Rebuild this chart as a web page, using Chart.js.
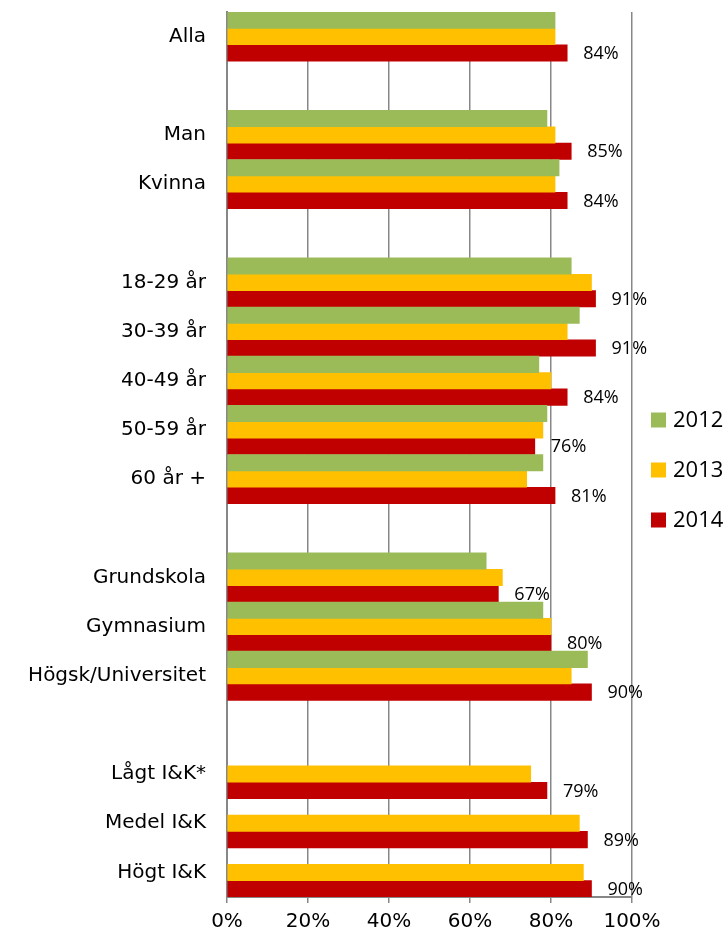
<!DOCTYPE html>
<html>
<head>
<meta charset="utf-8">
<script src="https://cdn.jsdelivr.net/npm/chart.js@4/dist/chart.umd.min.js"></script>
<style>
  html, body { margin: 0; padding: 0; background: #fff; }
  #wrap { width: 728px; height: 937px; }
</style>
</head>
<body>
<div id="wrap"><canvas id="chart" width="728" height="937"></canvas></div>
<script>
// Kategorier (tomma strängar = mellanrum mellan grupperna)
const kategorier = ['Alla', '', 'Man', 'Kvinna', '', '18-29 år', '30-39 år', '40-49 år', '50-59 år', '60 år +', '',
    'Grundskola', 'Gymnasium', 'Högsk/Universitet', '', 'Lågt I&K*', 'Medel I&K', 'Högt I&K'];

const ar = ['2012', '2013', '2014'];
const varden2012 = [81, null, 79, 82, null, 85, 87, 77, 79, 78, null, 64, 78, 89, null, null, null, null];
const varden2013 = [81, null, 81, 81, null, 90, 84, 80, 78, 74, null, 68, 80, 85, null, 75, 87, 88];
const varden2014 = [84, null, 85, 84, null, 91, 91, 84, 76, 81, null, 67, 80, 90, null, 79, 89, 90];

const xTicks = [0, 20, 40, 60, 80, 100];
const farger = ['#9BBB59', '#FFC000', '#C00000'];

// Procentetiketter på 2014-staplarna
const etikettPlugin = {
    id: 'etiketter',
    afterDatasetsDraw(chart) {
        const ctx = chart.ctx;
        const meta = chart.getDatasetMeta(2);
        ctx.save();
        ctx.font = '18px "Open Sans"';
        ctx.fillStyle = '#000';
        ctx.textAlign = 'left';
        ctx.textBaseline = 'middle';
        meta.data.forEach((bar, i) => {
            const v = varden2014[i];
            if (v == null) return;
            ctx.fillText(v + '%', bar.x + 16, bar.y + 1);
        });
        ctx.restore();
    }
};

// Egen legend till höger
const legendPlugin = {
    id: 'egenLegend',
    afterDraw(chart) {
        const ctx = chart.ctx;
        ctx.save();
        ctx.font = '22px "Open Sans"';
        ctx.textAlign = 'left';
        ctx.textBaseline = 'middle';
        chart.data.datasets.forEach((ds, i) => {
            const y = 420 + i * 50;
            ctx.fillStyle = ds.backgroundColor;
            ctx.fillRect(651, y - 7.5, 15, 15);
            ctx.fillStyle = '#000';
            ctx.fillText(ds.label, 673, y + 1);
        });
        ctx.restore();
    }
};

const ctx = document.getElementById('chart').getContext('2d');
const chart = new Chart(ctx, {
    type: 'bar',
    data: {
        labels: kategorier,
        datasets: [
            { label: ar[0], data: varden2012, backgroundColor: farger[0] },
            { label: ar[1], data: varden2013, backgroundColor: farger[1] },
            { label: ar[2], data: varden2014, backgroundColor: farger[2] }
        ]
    },
    options: {
        indexAxis: 'y',
        responsive: false,
        animation: false,
        layout: { padding: { top: 12, right: 96, left: 0, bottom: 0 } },
        datasets: {
            bar: { categoryPercentage: 1.0, barPercentage: 1.0 }
        },
        plugins: {
            legend: { display: false },
            tooltip: { enabled: false }
        },
        scales: {
            x: {
                min: 0,
                max: 100,
                afterBuildTicks: function(scale) {
                    scale.ticks = xTicks.map(v => ({ value: v }));
                },
                afterFit: function(scale) {
                    scale.height = 40;
                },
                grid: {
                    color: '#878787',
                    lineWidth: 1.5,
                    drawTicks: true,
                    tickLength: 6
                },
                border: { display: true, color: '#878787', width: 2 },
                ticks: {
                    padding: 7,
                    color: '#000',
                    font: { family: 'DejaVu Sans', size: 20 },
                    maxRotation: 0,
                    callback: function(value) { return value + '%'; }
                }
            },
            y: {
                afterFit: function(scale) {
                    scale.width = 227;
                    scale.paddingTop = 0;
                    scale.paddingBottom = 0;
                },
                grid: { display: false, drawTicks: false },
                border: { display: true, color: '#878787', width: 2 },
                ticks: {
                    autoSkip: false,
                    padding: 21,
                    color: '#000',
                    font: { family: 'DejaVu Sans', size: 20 }
                }
            }
        }
    },
    plugins: [etikettPlugin, legendPlugin]
});
</script>
</body>
</html>
